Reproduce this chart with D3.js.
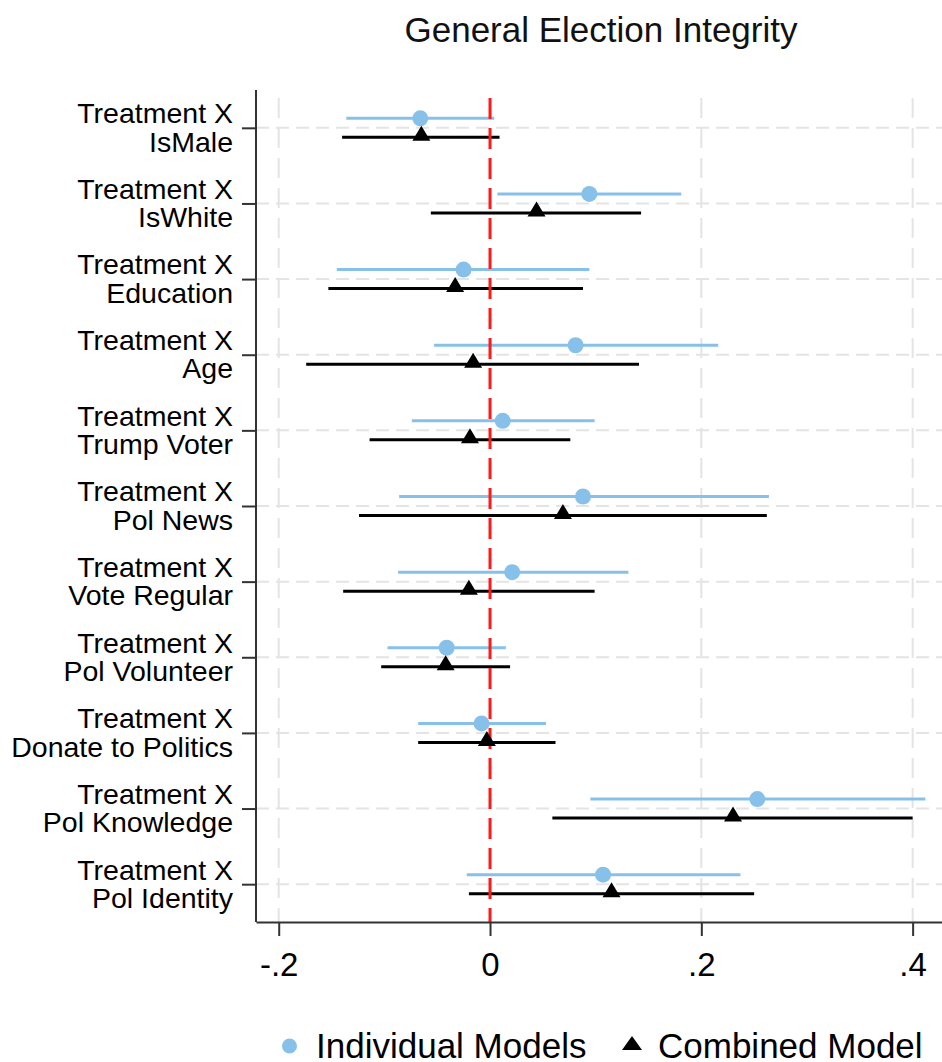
<!DOCTYPE html>
<html>
<head>
<meta charset="utf-8">
<script src="https://cdn.jsdelivr.net/npm/d3@7"></script>
<style>
  body { margin: 0; background: #fff; }
  svg { font-family: "Liberation Sans", Arial, sans-serif; }
</style>
</head>
<body>
<div id="chart"></div>
<script>
// data
const categories = ["IsMale", "IsWhite", "Education", "Age", "Trump Voter", "Pol News",
                    "Vote Regular", "Pol Volunteer", "Donate to Politics", "Pol Knowledge", "Pol Identity"];
const indEst = [-0.066, 0.094, -0.025, 0.081, 0.012, 0.088, 0.021, -0.041, -0.008, 0.253, 0.107];
const indLo  = [-0.136, 0.007, -0.145, -0.053, -0.074, -0.086, -0.087, -0.097, -0.068, 0.095, -0.022];
const indHi  = [0.004, 0.181, 0.094, 0.216, 0.099, 0.264, 0.131, 0.015, 0.053, 0.412, 0.237];
const comEst = [-0.065, 0.044, -0.033, -0.016, -0.019, 0.069, -0.020, -0.042, -0.003, 0.230, 0.115];
const comLo  = [-0.140, -0.056, -0.153, -0.174, -0.114, -0.124, -0.139, -0.103, -0.068, 0.059, -0.020];
const comHi  = [0.009, 0.143, 0.088, 0.141, 0.076, 0.262, 0.099, 0.019, 0.062, 0.400, 0.250];
const xTicks = [-0.2, 0, 0.2, 0.4];
const xTickLabels = ["-.2", "0", ".2", ".4"];
const legendLabels = ["Individual Models", "Combined Model"];

const W = 942, H = 1062;
const plot = { left: 256, right: 942, top: 90, bottom: 922 };
const blue = "#87c1ea", grid = "#e4e4e4", axisCol = "#333";

const svg = d3.select("#chart").append("svg")
    .attr("width", W)
    .attr("height", H);

const x = d3.scaleLinear()
    .domain([-0.2215, 0.4278])
    .range([plot.left, plot.right]);

const y = d3.scalePoint()
    .domain(categories)
    .range([plot.top, plot.bottom])
    .padding(0.5);

// title
svg.append("text")
   .attr("x", 601)
   .attr("y", 42)
   .attr("text-anchor", "middle")
   .style("font-size", "35px")
   .attr("fill", "#111")
   .text("General Election Integrity");

// grid lines
svg.append("g").selectAll("line")
   .data(categories)
   .enter().append("line")
   .attr("x1", plot.left).attr("x2", plot.right)
   .attr("y1", d => y(d)).attr("y2", d => y(d))
   .attr("stroke", grid).attr("stroke-width", 2)
   .attr("stroke-dasharray", "13,7");

svg.append("g").selectAll("line")
   .data(xTicks.filter(d => d !== 0))
   .enter().append("line")
   .attr("x1", d => x(d)).attr("x2", d => x(d))
   .attr("y1", 98).attr("y2", plot.bottom)
   .attr("stroke", grid).attr("stroke-width", 2)
   .attr("stroke-dasharray", "20,10");

// confidence intervals
const rows = categories.map((c, i) => ({
    cat: c, ie: indEst[i], il: indLo[i], ih: indHi[i],
    ce: comEst[i], cl: comLo[i], ch: comHi[i]
}));
const off = 9.5;

svg.append("g").selectAll("line")
   .data(rows)
   .enter().append("line")
   .attr("x1", d => x(d.il)).attr("x2", d => x(d.ih))
   .attr("y1", d => y(d.cat) - off).attr("y2", d => y(d.cat) - off)
   .attr("stroke", blue).attr("stroke-width", 3);

svg.append("g").selectAll("line")
   .data(rows)
   .enter().append("line")
   .attr("x1", d => x(d.cl)).attr("x2", d => x(d.ch))
   .attr("y1", d => y(d.cat) + off).attr("y2", d => y(d.cat) + off)
   .attr("stroke", "#000").attr("stroke-width", 3);

// zero reference line
svg.append("line")
   .attr("x1", x(0)).attr("x2", x(0))
   .attr("y1", 98).attr("y2", plot.bottom)
   .attr("stroke", "#ff1a1a").attr("stroke-width", 3)
   .attr("stroke-dasharray", "21,9");

// markers
svg.append("g").selectAll("circle")
   .data(rows)
   .enter().append("circle")
   .attr("cx", d => x(d.ie))
   .attr("cy", d => y(d.cat) - off)
   .attr("r", 8)
   .attr("fill", blue);

const tri = "M0,-9.5L9,5.5L-9,5.5Z";
svg.append("g").selectAll("path")
   .data(rows)
   .enter().append("path")
   .attr("d", tri)
   .attr("transform", d => `translate(${x(d.ce)},${y(d.cat) + off - 2})`)
   .attr("fill", "#000");

// axes
const xAxis = svg.append("g")
   .attr("transform", `translate(0,${plot.bottom})`)
   .call(d3.axisBottom(x).tickValues(xTicks)
           .tickFormat((d, i) => xTickLabels[i])
           .tickSize(14).tickSizeOuter(0).tickPadding(17));
xAxis.select(".domain").attr("stroke", axisCol).attr("stroke-width", 2);
xAxis.selectAll(".tick line").attr("stroke", axisCol).attr("stroke-width", 2);
xAxis.selectAll("text").style("font-size", "33px").attr("fill", "#000")
     .style("font-family", "Liberation Sans, Arial, sans-serif");

const yAxis = svg.append("g")
   .attr("transform", `translate(${plot.left},0)`)
   .call(d3.axisLeft(y).tickSize(14).tickSizeOuter(0).tickFormat(""));
yAxis.select(".domain").attr("d", `M0,${plot.top}V${plot.bottom}`)
     .attr("stroke", axisCol).attr("stroke-width", 2);
yAxis.selectAll(".tick line").attr("stroke", axisCol).attr("stroke-width", 2);

// two-line category labels
const lab = svg.append("g").selectAll("text")
   .data(categories)
   .enter().append("text")
   .attr("text-anchor", "end")
   .style("font-size", "28.5px")
   .attr("fill", "#000");
lab.append("tspan").attr("x", 233).attr("y", d => y(d) - 4.6).text("Treatment X");
lab.append("tspan").attr("x", 233).attr("y", d => y(d) + 23.7).text(d => d);

// legend
const leg = svg.append("g");
leg.append("circle").attr("cx", 289.5).attr("cy", 1046).attr("r", 7.5).attr("fill", blue);
leg.append("text").attr("x", 316).attr("y", 1058).style("font-size", "35px").text(legendLabels[0]);
leg.append("path").attr("d", "M0,-8L10,6L-10,6Z")
   .attr("transform", "translate(632,1044)").attr("fill", "#000");
leg.append("text").attr("x", 658).attr("y", 1058).style("font-size", "35px").text(legendLabels[1]);
</script>
</body>
</html>
